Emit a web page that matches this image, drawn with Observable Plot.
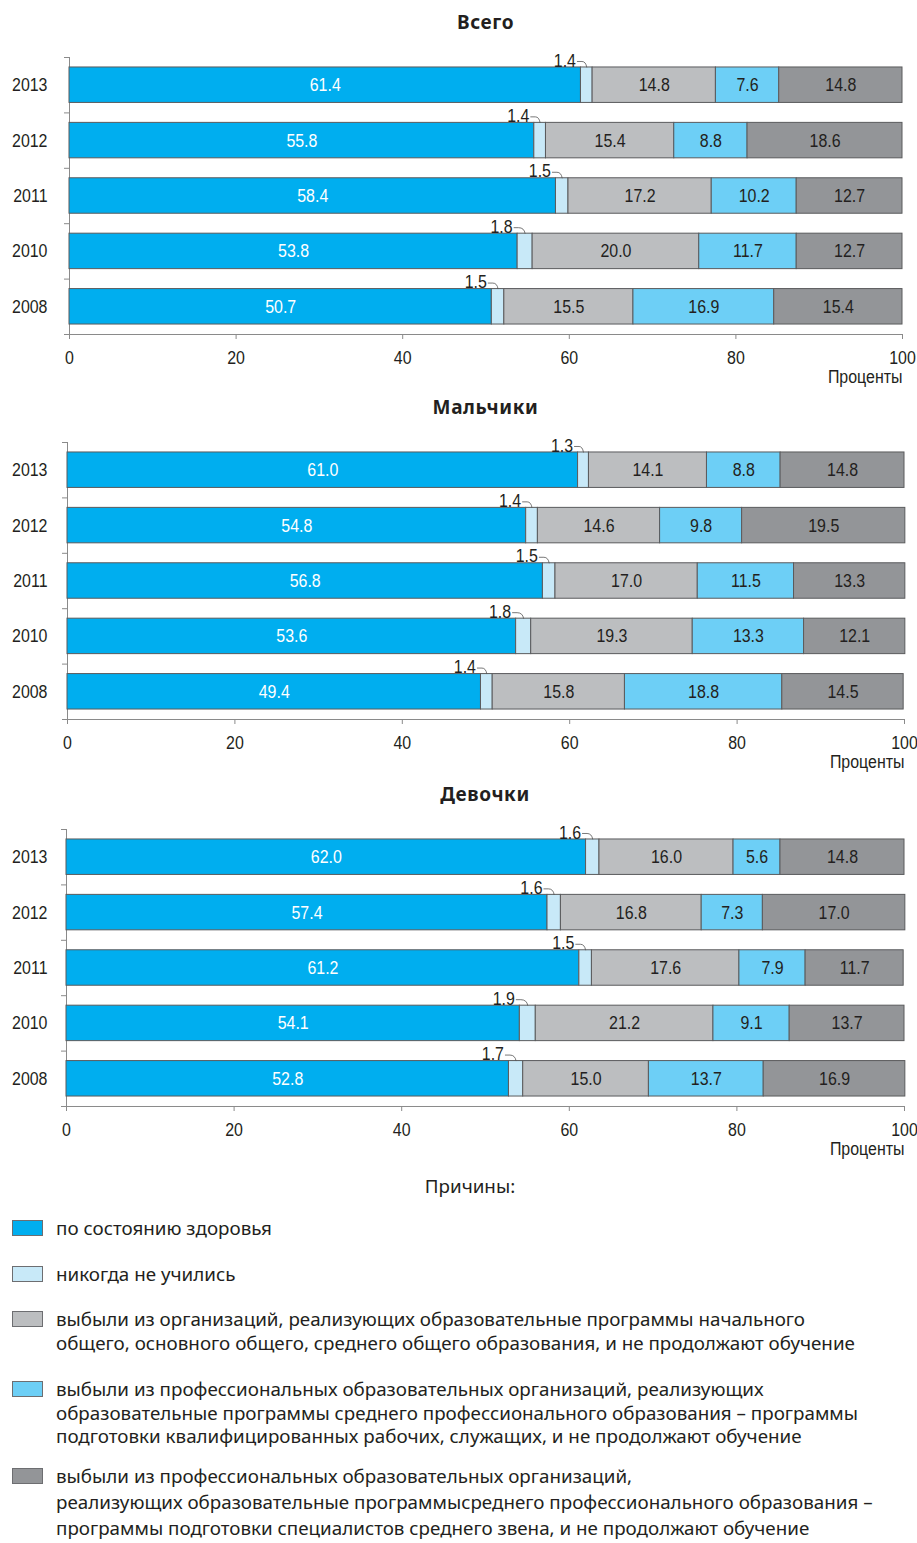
<!DOCTYPE html>
<html>
<head>
<meta charset="utf-8">
<script src="https://cdn.jsdelivr.net/npm/d3@7"></script>
<script src="https://cdn.jsdelivr.net/npm/@observablehq/plot@0.6"></script>
<style>
  html, body { margin: 0; padding: 0; background: #fff; }
  #root { position: relative; width: 917px; height: 1543px; overflow: hidden; color: #231f20; }
  .title { position: absolute; left: 0; width: 917px; text-align: center; font-family: "Noto Sans", sans-serif; font-weight: bold; font-size: 19px; letter-spacing: 0.6px; line-height: 24px; }
  .panel { position: absolute; left: 0; }
  .legtitle { position: absolute; font-family: "Noto Sans", sans-serif; font-size: 18.8px; line-height: 24px; }
  .swatch { position: absolute; left: 12px; width: 29px; height: 14px; border: 1px solid #6d6e71; }
  .legline { position: absolute; left: 56px; font-family: "Noto Sans", sans-serif; font-size: 18.8px; line-height: 20px; white-space: nowrap; }
</style>
</head>
<body>
<div id="root"></div>
<script>
// ---- data ----
const years = ["2013", "2012", "2011", "2010", "2008"];
const legendLines = [
  ["по состоянию здоровья"],
  ["никогда не учились"],
  ["выбыли из организаций, реализующих образовательные программы начального",
   "общего, основного общего, среднего общего образования, и не продолжают обучение"],
  ["выбыли из профессиональных образовательных организаций, реализующих",
   "образовательные программы среднего профессионального образования – программы",
   "подготовки квалифицированных рабочих, служащих, и не продолжают обучение"],
  ["выбыли из профессиональных образовательных организаций,",
   "реализующих образовательные программысреднего профессионального образования –",
   "программы подготовки специалистов среднего звена, и не продолжают обучение"]
];
const categories = legendLines.map(l => l.join(" "));
const colors = ["#00aeef", "#c8e9f8", "#bcbec0", "#6dcff6", "#939598"];
const xTicks = [0, 20, 40, 60, 80, 100];
const titles = ["Всего", "Мальчики", "Девочки"];
const legendTitle = "Причины:";
const axisLabel = "Проценты";

// Всего
const allHealth     = [61.4, 55.8, 58.4, 53.8, 50.7];
const allNever      = [1.4, 1.4, 1.5, 1.8, 1.5];
const allGeneral    = [14.8, 15.4, 17.2, 20.0, 15.5];
const allVocational = [7.6, 8.8, 10.2, 11.7, 16.9];
const allSpecialist = [14.8, 18.6, 12.7, 12.7, 15.4];
// Мальчики
const boyHealth     = [61.0, 54.8, 56.8, 53.6, 49.4];
const boyNever      = [1.3, 1.4, 1.5, 1.8, 1.4];
const boyGeneral    = [14.1, 14.6, 17.0, 19.3, 15.8];
const boyVocational = [8.8, 9.8, 11.5, 13.3, 18.8];
const boySpecialist = [14.8, 19.5, 13.3, 12.1, 14.5];
// Девочки
const girlHealth     = [62.0, 57.4, 61.2, 54.1, 52.8];
const girlNever      = [1.6, 1.6, 1.5, 1.9, 1.7];
const girlGeneral    = [16.0, 16.8, 17.6, 21.2, 15.0];
const girlVocational = [5.6, 7.3, 7.9, 9.1, 13.7];
const girlSpecialist = [14.8, 17.0, 11.7, 13.7, 16.9];

// ---- layout ----
const W = 917;
const chartFont = '"Liberation Sans", Arial, sans-serif';
const narrow = 0.84; // horizontal condensing of chart text
const axisGray = "#8a8a8a";
const textDark = "#231f20";

function buildRows(series) {
  const rows = [];
  years.forEach((year, i) => {
    let acc = 0;
    series.forEach((s, c) => {
      const v = s[i];
      rows.push({year, cat: categories[c], ci: c, value: v, x1: acc, x2: acc + v});
      acc += v;
    });
  });
  return rows;
}

function hookCurve(context) {
  let pts = [];
  return {
    areaStart() {}, areaEnd() {},
    lineStart() { pts = []; },
    point(x, y) { pts.push([x, y]); },
    lineEnd() {
      const [[x0, y0], [x1, y1]] = pts;
      context.moveTo(x0 - 4, y0 - 6);
      context.lineTo(x0 + 1, y0 - 6);
      context.quadraticCurveTo(x1 - 1, y0 - 6, x1, y1);
    }
  };
}

function condense(svg) {
  svg.querySelectorAll("text").forEach(el => {
    const xa = parseFloat(el.getAttribute("x"));
    const x = isFinite(xa) ? xa : 0;
    const prev = el.getAttribute("transform") || "";
    el.setAttribute("transform", `${prev} translate(${x},0) scale(${narrow},1) translate(${-x},0)`.trim());
  });
}

const root = document.getElementById("root");

function panel(title, series, tickTop, x0, x100) {
  const mt = 10, ih = 277, mb = 62;
  const pi = 0.36;
  const step = ih / years.length;
  const bw = step * (1 - pi);
  const data = buildRows(series);
  const never = data.filter(d => d.ci === 1);

  const t = document.createElement("div");
  t.className = "title";
  t.style.top = (tickTop - 35 - 12) + "px";
  t.style.left = ((x0 + x100) / 2 - W / 2) + "px";
  t.textContent = title;
  root.appendChild(t);

  const chart = Plot.plot({
    width: W,
    height: mt + ih + mb,
    marginTop: mt,
    marginBottom: mb,
    marginLeft: x0,
    marginRight: W - x100,
    style: {fontFamily: chartFont, fontSize: "19px", color: textDark, background: "transparent", overflow: "visible"},
    x: {domain: [0, 100], label: null},
    y: {domain: years, paddingInner: pi, paddingOuter: pi / 2, round: false, label: null},
    color: {domain: categories, range: colors},
    marks: [
      Plot.ruleX([0], {stroke: axisGray}),
      Plot.ruleY(years, {y: d => d, x1: 0, x2: 0, insetLeft: -5, dy: -step / 2, stroke: axisGray}),
      Plot.ruleY([years[years.length - 1]], {y: d => d, x1: 0, x2: 100, insetLeft: -5, dy: step / 2, stroke: axisGray}),
      Plot.axisX({ticks: xTicks, tickSize: 5, tickPadding: 11, stroke: axisGray, fill: textDark, label: null}),
      Plot.axisY({tickSize: 0, tickPadding: x0 - 47, fill: textDark, label: null}),
      Plot.barX(data, {x1: "x1", x2: "x2", y: "year", fill: "cat", stroke: "#5a5b5d", strokeWidth: 1}),
      Plot.text(data.filter(d => d.ci === 0), {x: d => (d.x1 + d.x2) / 2, y: "year", text: d => d.value.toFixed(1), fill: "white"}),
      Plot.text(data.filter(d => d.ci >= 2), {x: d => (d.x1 + d.x2) / 2, y: "year", text: d => d.value.toFixed(1), fill: textDark}),
      Plot.text(never, {x: "x1", y: "year", text: d => d.value.toFixed(1), dx: -5, dy: -bw / 2 - 7, textAnchor: "end", fill: textDark}),
      Plot.link(never, {x1: "x1", x2: d => (d.x1 + d.x2) / 2, y1: "year", y2: "year", dy: -bw / 2, curve: hookCurve, stroke: "#555", strokeWidth: 0.8}),
      Plot.text([axisLabel], {frameAnchor: "bottom-right", dy: 48, textAnchor: "end", fill: textDark})
    ]
  });
  condense(chart);
  const wrap = document.createElement("div");
  wrap.className = "panel";
  wrap.style.top = (tickTop - mt) + "px";
  wrap.appendChild(chart);
  root.appendChild(wrap);
}

panel(titles[0], [allHealth, allNever, allGeneral, allVocational, allSpecialist], 57, 69, 902);
panel(titles[1], [boyHealth, boyNever, boyGeneral, boyVocational, boySpecialist], 442, 67, 904);
panel(titles[2], [girlHealth, girlNever, girlGeneral, girlVocational, girlSpecialist], 829, 66, 904);

// ---- legend ----
const lt = document.createElement("div");
lt.className = "legtitle";
lt.style.left = "0px"; lt.style.width = "940px"; lt.style.textAlign = "center";
lt.style.top = (1186 - 12) + "px";
lt.textContent = legendTitle;
root.appendChild(lt);

const firstLineCenters = [1228, 1274, 1319, 1389, 1476];
const lineSteps = [23.5, 23.5, 23.5, 23.5, 26];
legendLines.forEach((lines, i) => {
  const sw = document.createElement("div");
  sw.className = "swatch";
  sw.style.background = colors[i];
  sw.style.top = (firstLineCenters[i] - 8) + "px";
  root.appendChild(sw);
  lines.forEach((ln, j) => {
    const tx = document.createElement("div");
    tx.className = "legline";
    tx.style.top = (firstLineCenters[i] + j * lineSteps[i] - 10) + "px";
    tx.textContent = ln;
    root.appendChild(tx);
  });
});
</script>
</body>
</html>
